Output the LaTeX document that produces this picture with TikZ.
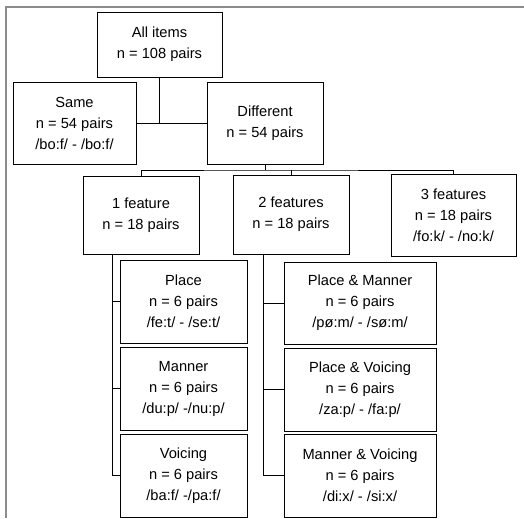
\documentclass[tikz,border=0pt]{standalone}
\usepackage{fontspec}
\setmainfont{Liberation Sans}
\begin{document}
\begin{tikzpicture}[x=0.75pt, y=-0.75pt,
    box/.style 2 args={draw, line width=0.7pt, align=center, inner sep=0pt,
      minimum width=#1*0.75pt, minimum height=#2*0.75pt,
      font=\fontsize{11}{15.75}\selectfont},
    link/.style={line width=0.7pt}]
  \useasboundingbox (0,0) rectangle (524,518);

  % Outer frame (only top and left edges are in view)
  \draw[gray!110!black, line width=1pt] (524,7) -- (6,7) -- (6,518);

  % Top level
  \node[box={125}{65}] (all) at (159.5,44.5) {All items\\n = 108 pairs};
  \node[box={123}{82}] (same) at (74.5,123) {Same\\n = 54 pairs\\/bo:f/ - /bo:f/};
  \node[box={116}{82}] (diff) at (265,123) {Different\\n = 54 pairs};

  % Number of features
  \node[box={116}{78}] (one) at (141,215) {1 feature\\n = 18 pairs};
  \node[box={116}{79}] (two) at (291,214.5) {2 features\\n = 18 pairs};
  \node[box={125}{82}] (three) at (453.5,215) {3 features\\n = 18 pairs\\/fo:k/ - /no:k/};

  % One feature
  \node[box={127}{83}] (place) at (183.5,301.5) {Place\\n = 6 pairs\\/fe:t/ - /se:t/};
  \node[box={127}{83}] (manner) at (183.5,388.5) {Manner\\n = 6 pairs\\/du:p/ -/nu:p/};
  \node[box={127}{83}] (voicing) at (183.5,475.5) {Voicing\\n = 6 pairs\\/ba:f/ -/pa:f/};

  % Two features
  \node[box={152}{82}] (pm) at (360,303) {Place \& Manner\\n = 6 pairs\\/pø:m/ - /sø:m/};
  \node[box={152}{83}] (pv) at (360,389.5) {Place \& Voicing\\n = 6 pairs\\/za:p/ - /fa:p/};
  \node[box={152}{83}] (mv) at (360,475.5) {Manner \& Voicing\\n = 6 pairs\\/di:x/ - /si:x/};

  % Connectors
  \draw[link] (same.east) -- (diff.west);
  \draw[link] (all.south) -- (all.south |- same.east);

  \coordinate (split) at (265,170);
  \draw[link] (diff.south) -- (split);
  \draw[link] (one.north) |- (split) -| (three.north);
  \draw[link] (two.north) -- (two.north |- split);

  \coordinate (trunkA) at (112,254);
  \draw[link] (trunkA) |- (place.west);
  \draw[link] (trunkA) |- (manner.west);
  \draw[link] (trunkA) |- (voicing.west);

  \coordinate (trunkB) at (263,254);
  \draw[link] (trunkB) |- (pm.west);
  \draw[link] (trunkB) |- (pv.west);
  \draw[link] (trunkB) |- (mv.west);
\end{tikzpicture}
\end{document}
